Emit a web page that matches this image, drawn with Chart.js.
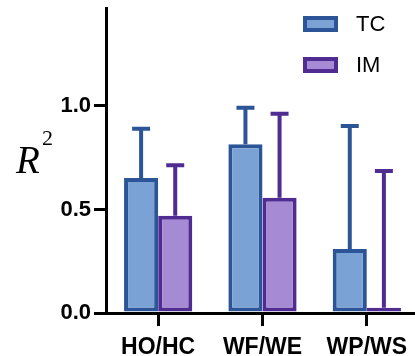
<!DOCTYPE html>
<html>
<head>
<meta charset="utf-8">
<script src="https://cdn.jsdelivr.net/npm/chart.js@4"></script>
<style>
html,body{margin:0;padding:0;background:#fff;overflow:hidden;width:415px;height:356px;}
#c{display:block;}
</style>
</head>
<body>
<canvas id="c" width="419" height="356"></canvas>
<script>
const categories = ['HO/HC', 'WF/WE', 'WP/WS'];
const seriesNames = ['TC', 'IM'];
const tcValues = [0.652, 0.815, 0.309];
const imValues = [0.47, 0.557, 0.025];
const tcErrors = [0.238, 0.176, 0.594];
const imErrors = [0.243, 0.405, 0.661];
const yTicks = [0, 0.5, 1.0];

const tcFill = '#7ba2d5', tcLine = '#2c5597';
const imFill = '#a68ad3', imLine = '#4f2b92';

const errorBars = {
  id: 'errorBars',
  afterDatasetsDraw(chart) {
    const ctx = chart.ctx;
    const y = chart.scales.y;
    chart.data.datasets.forEach((ds, i) => {
      const meta = chart.getDatasetMeta(i);
      meta.data.forEach((bar, j) => {
        const top = y.getPixelForValue(ds.data[j] + ds.errors[j]);
        const base = y.getPixelForValue(ds.data[j]);
        ctx.save();
        ctx.strokeStyle = ds.borderColor;
        ctx.lineWidth = 4;
        ctx.beginPath();
        ctx.moveTo(bar.x, base);
        ctx.lineTo(bar.x, top);
        ctx.moveTo(bar.x - 9, top);
        ctx.lineTo(bar.x + 9, top);
        ctx.stroke();
        ctx.restore();
      });
    });
  }
};

const annotations = {
  id: 'annotations',
  afterDraw(chart) {
    const ctx = chart.ctx;
    ctx.save();
    ctx.fillStyle = '#000';
    ctx.textBaseline = 'alphabetic';
    ctx.textAlign = 'left';
    ctx.font = 'italic 39px "Liberation Serif", "Times New Roman", serif';
    ctx.fillText('R', 16, 173);
    ctx.font = '22px "Liberation Serif", "Times New Roman", serif';
    ctx.fillText('2', 42, 145);
    chart.data.datasets.forEach((ds, i) => {
      const yy = 16 + i * 41;
      ctx.fillStyle = ds.backgroundColor;
      ctx.strokeStyle = ds.borderColor;
      ctx.lineWidth = 4;
      ctx.fillRect(305, yy + 2, 31, 12);
      ctx.strokeRect(305, yy + 2, 31, 12);
      ctx.fillStyle = '#000';
      ctx.font = '22px "Liberation Sans", Arial, sans-serif';
      ctx.textBaseline = 'middle';
      ctx.fillText(ds.label, 356, yy + 9);
    });
    ctx.restore();
  }
};

new Chart(document.getElementById('c'), {
  type: 'bar',
  data: {
    labels: categories,
    datasets: [
      { label: seriesNames[0], data: tcValues, errors: tcErrors,
        backgroundColor: tcFill, borderColor: tcLine, borderWidth: 4, borderSkipped: false },
      { label: seriesNames[1], data: imValues, errors: imErrors,
        backgroundColor: imFill, borderColor: imLine, borderWidth: 4, borderSkipped: false }
    ]
  },
  options: {
    responsive: false,
    animation: false,
    devicePixelRatio: 1,
    layout: { padding: { top: 8, right: 0, left: 0, bottom: 0 } },
    datasets: { bar: { categoryPercentage: 0.654, barPercentage: 1.0 } },
    plugins: { legend: { display: false }, tooltip: { enabled: false } },
    scales: {
      x: {
        offset: true,
        grid: { display: true, drawOnChartArea: false, drawTicks: true, tickLength: 13,
                color: '#000', lineWidth: 3, offset: false },
        border: { display: true, color: '#000', width: 3 },
        ticks: { color: '#000', padding: 8, maxRotation: 0,
                 font: { family: '"Liberation Sans", Arial, sans-serif', size: 23, weight: 'bold' } },
        afterFit(s) { s.height = 43; s.paddingLeft = 0; s.paddingRight = 0; }
      },
      y: {
        min: 0, max: 1.473,
        grid: { display: true, drawOnChartArea: false, drawTicks: true, tickLength: 12,
                color: '#000', lineWidth: 3 },
        border: { display: true, color: '#000', width: 3 },
        afterBuildTicks(s) { s.ticks = yTicks.map(v => ({ value: v })); },
        ticks: { color: '#000', padding: 3,
                 callback: v => Number(v).toFixed(1),
                 font: { family: '"Liberation Sans", Arial, sans-serif', size: 22, weight: 'bold' } },
        afterFit(s) { s.width = 106; s.paddingTop = 0; s.paddingBottom = 0; }
      }
    }
  },
  plugins: [errorBars, annotations]
});
</script>
</body>
</html>
